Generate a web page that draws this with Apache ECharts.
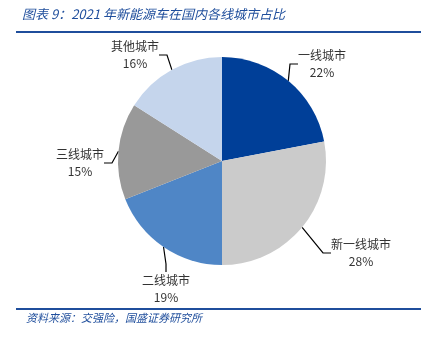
<!DOCTYPE html>
<html><head><meta charset="utf-8">
<script src="https://cdn.jsdelivr.net/npm/echarts@6/dist/echarts.min.js"></script>
<style>html,body{margin:0;padding:0;background:#fff}#c{width:436px;height:337px}</style>
</head><body><div id="c"></div>
<script>
var categories = ['一线城市', '新一线城市', '二线城市', '三线城市', '其他城市'];
var shares = [22, 28, 19, 15, 16];
var colors = ['#003f98', '#cbcbcb', '#4f86c6', '#999999', '#c5d5ec'];
var titleText = '图表 9：2021 年新能源车在国内各线城市占比';
var sourceText = '资料来源：交强险，国盛证券研究所';
var labelPos = [[322, 64], [361, 253], [166, 289], [80, 163], [135, 55]];

var chart = echarts.init(document.getElementById('c'));
var data = categories.map(function (c, i) {
  return { name: c, value: shares[i], itemStyle: { color: colors[i] } };
});
chart.setOption({
  animation: false,
  graphic: [
    { type: 'text', left: 22, top: 8, style: { text: titleText, fill: '#1f4e9c', font: 'italic 13px "Noto Sans CJK SC"' } },
    { type: 'rect', shape: { x: 16, y: 31, width: 405, height: 2 }, style: { fill: '#1f4e9c' } },
    { type: 'rect', shape: { x: 16, y: 308, width: 405, height: 2 }, style: { fill: '#1f4e9c' } },
    { type: 'text', left: 26, top: 312, style: { text: sourceText, fill: '#1f4e9c', font: 'italic 11px "Noto Sans CJK SC"' } }
  ],
  series: [{
    type: 'pie',
    center: [222, 161],
    radius: 104,
    startAngle: 90,
    clockwise: true,
    data: data,
    label: {
      formatter: '{b}\n{d}%',
      color: '#333',
      fontSize: 12,
      lineHeight: 17,
      fontFamily: '"Noto Sans CJK SC"',
      align: 'center'
    },
    labelLine: { length: 8, length2: 8, lineStyle: { color: '#000', width: 1.2 } },
    labelLayout: function (p) {
      var pos = labelPos[p.dataIndex];
      return { x: pos[0], y: pos[1], align: 'center', verticalAlign: 'middle' };
    },
    emphasis: { disabled: true }
  }]
});
</script></body></html>
